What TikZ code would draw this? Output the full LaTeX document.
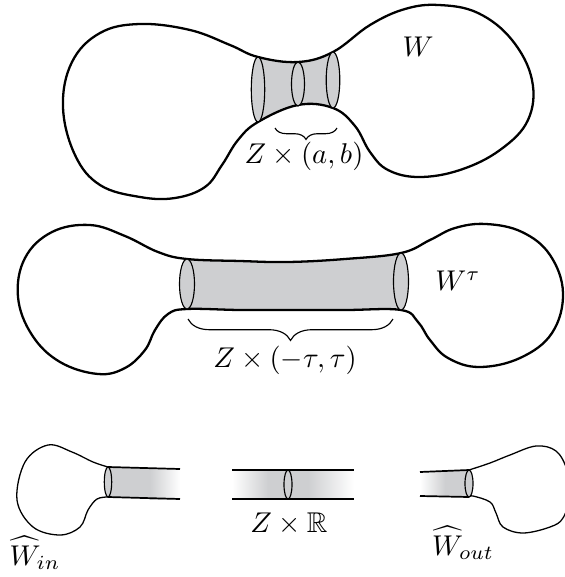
\documentclass[tikz,border=0pt]{standalone}
\usepackage{amsmath, amssymb}
\usetikzlibrary{decorations.pathreplacing}
\definecolor{neck}{RGB}{206,207,209}

\begin{document}
\begin{tikzpicture}[x=0.35pt, y=-0.35pt,
  hull/.style={line width=0.8pt},
  thinhull/.style={line width=0.45pt},
  tube/.style={line width=0.6pt},
  rim/.style={draw, fill=neck, line width=0.4pt},
  curly/.style={decorate, decoration={brace, mirror, amplitude=#1}, line width=0.4pt}]
  \useasboundingbox (0,0) rectangle (565,577);

  % W with the collar Z x (a,b)
  \path[save path=\bodyW] plot[smooth cycle, tension=0.65] coordinates {
    (63,107) (72,62) (100,33) (140,24) (190,30) (230,45) (258,57) (298,62)
    (333,52) (370,25) (405,9) (439,5) (478,13) (512,40) (532,80) (528,120)
    (500,150) (460,170) (419,177) (388,170) (370,152) (355,126) (333,108)
    (298,105) (258,122) (238,140) (222,165) (205,187) (175,198) (140,197)
    (100,185) (75,155)};
  \begin{scope}
    \clip[use path=\bodyW];
    \fill[neck] (258,0) rectangle (333,210);
  \end{scope}
  \draw[hull, use path=\bodyW];
  \draw[rim] (258,89.5) ellipse [x radius=6.7, y radius=32.5];
  \draw[rim] (298,84) ellipse [x radius=6.5, y radius=22];
  \draw[rim] (333,80) ellipse [x radius=6.8, y radius=28];
  \draw[curly=4pt] (275,128) -- (337,128);
  \node (lW) at (418,47) {$W$};
  \node (lZab) at (304,156) {$Z\times(a,b)$};

  % stretched W^tau
  \path[save path=\bodyWt] plot[smooth cycle, tension=0.65] coordinates {
    (18,297) (25,258) (52,232) (90,225) (125,236) (158,252) (187,259)
    (240,261) (288,262) (345,259) (401,253) (430,240) (455,228) (486,224)
    (522,232) (550,255) (563,293) (552,333) (520,358) (479,367) (448,358)
    (430,340) (418,322) (401,310) (345,310) (288,310) (240,310) (187,309)
    (168,314) (155,330) (145,350) (125,368) (98,374) (60,362) (32,335)};
  \begin{scope}
    \clip[use path=\bodyWt];
    \fill[neck] (187,200) rectangle (401,400);
  \end{scope}
  \draw[hull, use path=\bodyWt];
  \draw[rim] (187,284) ellipse [x radius=7.5, y radius=25];
  \draw[rim] (401,281.5) ellipse [x radius=7.5, y radius=28.5];
  \draw[curly=7.5pt] (188,319) -- (393,319);
  \node (lWt) at (458,281) {$W^\tau$};
  \node (lZt) at (285,360) {$Z\times(-\tau,\tau)$};

  % completed pieces
  \fill[neck] (108,467) -- (150,468) -- (150,498) -- (108,497) -- cycle;
  \shade[left color=neck, right color=white] (150,468) rectangle (180,499);
  \draw[tube] (108,467) -- (180,469);
  \draw[tube] (108,497) -- (180,499);
  \draw[thinhull] plot[smooth, tension=0.6] coordinates {
    (108,467) (93,462) (72,452) (48,445) (25,462) (17,500) (33,527)
    (60,535) (80,527) (88,510) (97,499) (108,497)};
  \draw[rim] (108,482) ellipse [x radius=3.7, y radius=15];
  \node (lWin) at (35,553) {$\widehat{W}_{in}$};

  \shade[left color=white, right color=neck] (232,470) rectangle (268,499);
  \fill[neck] (268,470) rectangle (308,499);
  \shade[left color=neck, right color=white] (308,470) rectangle (354,499);
  \draw[tube] (232,470) -- (354,470);
  \draw[tube] (232,499) -- (354,499);
  \draw[rim] (288,484.5) ellipse [x radius=4, y radius=14.5];
  \node (lZR) at (289,524) {$Z\times\mathbb{R}$};

  \shade[left color=white, right color=neck] (420,472) rectangle (445,496);
  \fill[neck] (445,471) -- (469,470) -- (469,497) -- (445,496) -- cycle;
  \draw[tube] (420,472) -- (469,470);
  \draw[tube] (420,496) -- (469,497);
  \begin{scope}
    \clip (0,0) rectangle (565,577);
    \draw[thinhull] plot[smooth, tension=0.6] coordinates {
      (469,470) (490,463) (510,455) (536,446) (556,451) (567,470) (570,495)
      (563,518) (550,527) (523,533) (503,527) (496,513) (490,502) (473,496)
      (469,497)};
  \end{scope}
  \draw[rim] (469,483.5) ellipse [x radius=4, y radius=13.5];
  \node (lWout) at (463,543) {$\widehat{W}_{out}$};
\end{tikzpicture}
\end{document}
